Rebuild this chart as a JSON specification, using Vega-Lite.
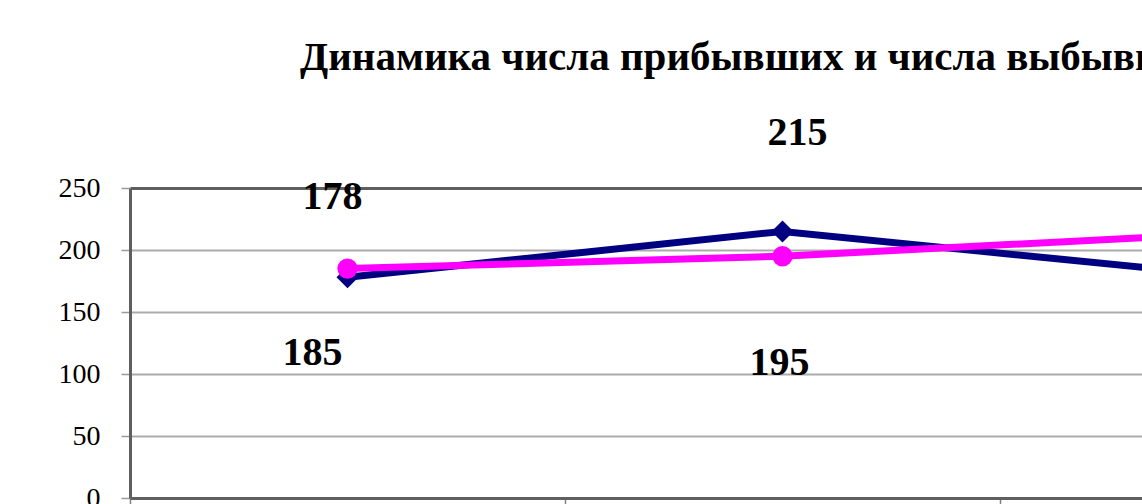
{
  "$schema": "https://vega.github.io/schema/vega-lite/v6.json",
  "autosize": {"type": "none"},
  "width": 1012,
  "height": 310,
  "padding": {"left": 130, "top": 188, "right": 0, "bottom": 6},
  "background": "white",
  "config": {"view": {"stroke": null}, "font": "Liberation Serif"},
  "title": {
    "text": "Динамика числа прибывших и числа выбывших",
    "anchor": "start",
    "frame": "group",
    "dx": 170,
    "dy": -2,
    "offset": 0,
    "baseline": "alphabetic",
    "font": "Liberation Serif",
    "fontSize": 41,
    "fontWeight": "bold",
    "color": "#000000"
  },
  "data": {
    "values": [
      {"period": "2008", "series": "Прибывшие", "value": 178},
      {"period": "2009", "series": "Прибывшие", "value": 215},
      {"period": "2010", "series": "Прибывшие", "value": 180},
      {"period": "2008", "series": "Выбывшие", "value": 185},
      {"period": "2009", "series": "Выбывшие", "value": 195},
      {"period": "2010", "series": "Выбывшие", "value": 213}
    ]
  },
  "encoding": {
    "x": {
      "field": "period",
      "type": "ordinal",
      "sort": null,
      "bandPosition": 0.5,
      "scale": {"type": "band", "range": [0, 1305], "paddingInner": 0, "paddingOuter": 0},
      "axis": {
        "title": null,
        "bandPosition": 0,
        "grid": false,
        "labels": false,
        "domainColor": "#5f5f5f",
        "domainWidth": 3,
        "tickColor": "#808080",
        "tickWidth": 1.5,
        "tickSize": 9
      }
    },
    "y": {
      "field": "value",
      "type": "quantitative",
      "scale": {"domain": [0, 250], "nice": false, "zero": true},
      "axis": {
        "title": null,
        "values": [0, 50, 100, 150, 200, 250],
        "grid": true,
        "gridColor": {"condition": {"test": "datum.value === 250", "value": "#5f5f5f"}, "value": "#ababab"},
        "gridWidth": {"condition": {"test": "datum.value === 250", "value": 3}, "value": 2},
        "domainColor": "#5f5f5f",
        "domainWidth": 3,
        "tickColor": "#9a9a9a",
        "tickWidth": 1.5,
        "tickSize": 9,
        "labelPadding": 21,
        "labelFont": "Liberation Serif",
        "labelFontSize": 28,
        "labelColor": "#000000",
        "labelBaseline": "middle"
      }
    }
  },
  "layer": [
    {
      "transform": [{"filter": "datum.series === 'Прибывшие'"}],
      "mark": {"type": "line", "color": "#000080", "strokeWidth": 7, "point": {"shape": "diamond", "size": 484, "filled": true, "color": "#000080", "opacity": 1}}
    },
    {
      "transform": [{"filter": "datum.series === 'Выбывшие'"}],
      "mark": {"type": "line", "color": "#FF00FF", "strokeWidth": 7, "point": {"shape": "circle", "size": 415, "filled": true, "color": "#FF00FF", "opacity": 1}}
    },
    {
      "transform": [{"filter": "datum.series === 'Прибывшие' && datum.period === '2008'"}],
      "mark": {"type": "text", "font": "Liberation Serif", "fontSize": 40, "fontWeight": "bold", "color": "#000000", "align": "center", "baseline": "alphabetic", "dx": -15, "dy": -68},
      "encoding": {"text": {"field": "value", "type": "quantitative"}}
    },
    {
      "transform": [{"filter": "datum.series === 'Прибывшие' && datum.period === '2009'"}],
      "mark": {"type": "text", "font": "Liberation Serif", "fontSize": 40, "fontWeight": "bold", "color": "#000000", "align": "center", "baseline": "alphabetic", "dx": 15, "dy": -86},
      "encoding": {"text": {"field": "value", "type": "quantitative"}}
    },
    {
      "transform": [{"filter": "datum.series === 'Выбывшие' && datum.period === '2008'"}],
      "mark": {"type": "text", "font": "Liberation Serif", "fontSize": 40, "fontWeight": "bold", "color": "#000000", "align": "center", "baseline": "alphabetic", "dx": -35, "dy": 96},
      "encoding": {"text": {"field": "value", "type": "quantitative"}}
    },
    {
      "transform": [{"filter": "datum.series === 'Выбывшие' && datum.period === '2009'"}],
      "mark": {"type": "text", "font": "Liberation Serif", "fontSize": 40, "fontWeight": "bold", "color": "#000000", "align": "center", "baseline": "alphabetic", "dx": -3, "dy": 119},
      "encoding": {"text": {"field": "value", "type": "quantitative"}}
    }
  ]
}
